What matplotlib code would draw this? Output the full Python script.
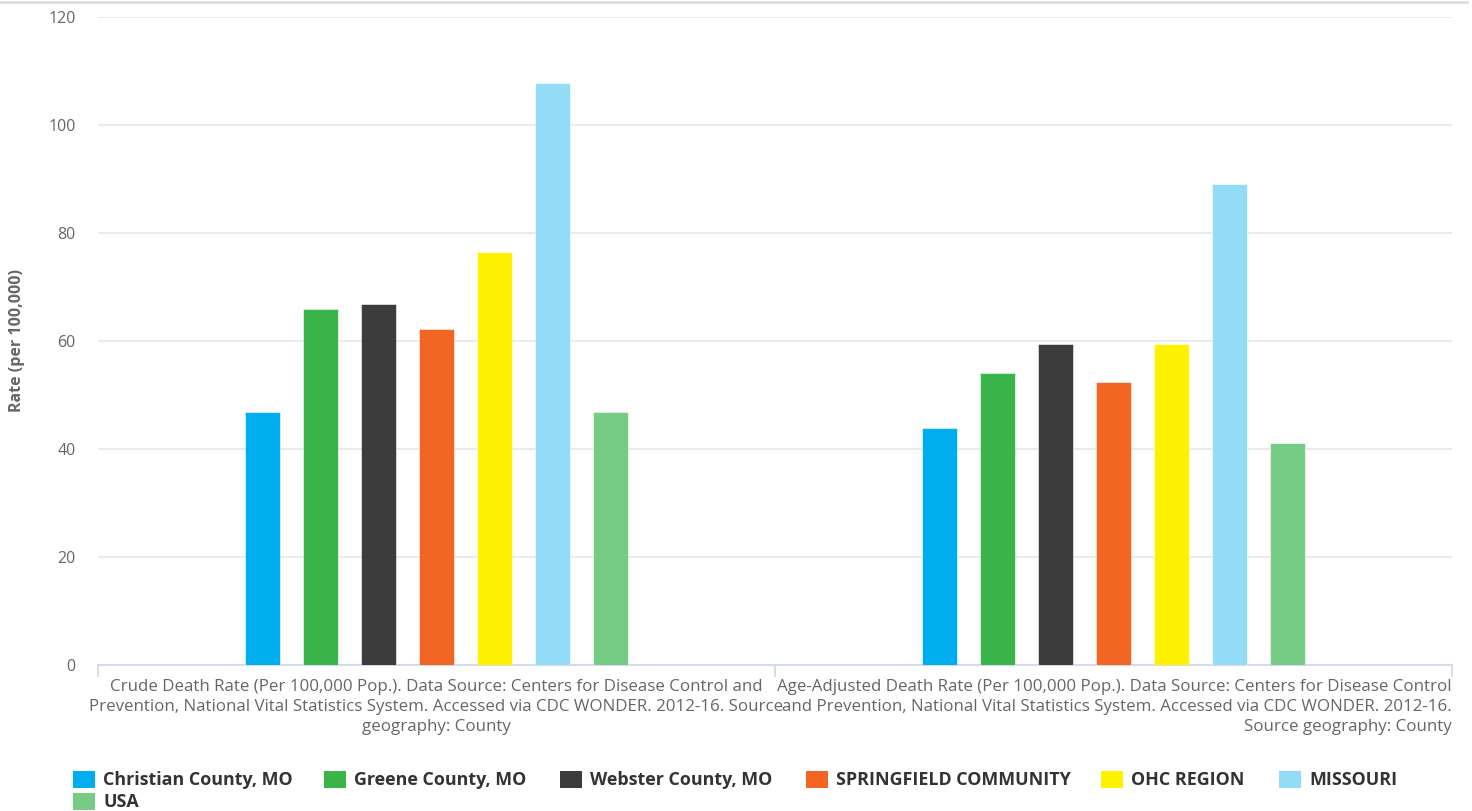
import matplotlib
matplotlib.use('Agg')
import matplotlib.pyplot as plt
from matplotlib.patches import Rectangle
from matplotlib.lines import Line2D
import numpy as np

plt.rcParams['font.family'] = ['Open Sans', 'DejaVu Sans']

# ---------------- data ----------------
categories = [
    "Crude Death Rate (Per 100,000 Pop.). Data Source: Centers for Disease Control and\n"
    "Prevention, National Vital Statistics System. Accessed via CDC WONDER. 2012-16. Source\n"
    "geography: County",
    "Age-Adjusted Death Rate (Per 100,000 Pop.). Data Source: Centers for Disease Control\n"
    "and Prevention, National Vital Statistics System. Accessed via CDC WONDER. 2012-16.\n"
    "Source geography: County",
]
series_names = ["Christian County, MO", "Greene County, MO", "Webster County, MO",
                "SPRINGFIELD COMMUNITY", "OHC REGION", "MISSOURI", "USA"]
christian = [46.9, 43.9]
greene = [66.0, 54.1]
webster = [66.8, 59.5]
springfield = [62.2, 52.5]
ohc = [76.5, 59.5]
missouri = [107.7, 89.0]
usa = [46.9, 41.2]
series_values = [christian, greene, webster, springfield, ohc, missouri, usa]
colors = ['#00aeef', '#39b54a', '#3c3c3c', '#f26522', '#fff200', '#92dcf8', '#76cc85']
y_ticks = [0, 20, 40, 60, 80, 100, 120]
y_label = "Rate (per 100,000)"

# ---------------- layout ----------------
W, H = 1472, 811
fig = plt.figure(figsize=(W / 100, H / 100), dpi=100)
ax_left, ax_right, ax_top, ax_bottom = 98, 1452, 17, 665
ax = fig.add_axes([ax_left / W, 1 - ax_bottom / H,
                   (ax_right - ax_left) / W, (ax_bottom - ax_top) / H])

pitch = 0.0857
width = 0.0512
x = np.arange(len(categories))
n = len(series_names)
for j, (vals, col) in enumerate(zip(series_values, colors)):
    ax.bar(x + (j - (n - 1) / 2) * pitch, vals, width=width, color=col,
           edgecolor='white', linewidth=0.4, zorder=3)

ax.set_xlim(-0.5, len(categories) - 0.5)
ax.set_ylim(0, 120)
ax.set_yticks(y_ticks)
ax.set_yticklabels([str(t) for t in y_ticks])
ax.grid(axis='y', color='#e6e6e6', linewidth=1.2, zorder=0)
ax.tick_params(axis='y', length=0, pad=16, labelsize=11.5, labelcolor='#666666')
for s in ['top', 'right', 'left']:
    ax.spines[s].set_visible(False)
ax.spines['bottom'].set_color('#ccd6eb')
ax.spines['bottom'].set_linewidth(1.2)
ax.set_xticks([])
ax.set_xticks(np.arange(-0.5, len(categories)), minor=True)
ax.tick_params(axis='x', which='minor', length=8.5, width=1.2, color='#ccd6eb',
               labelbottom=False)

ax.set_ylabel(y_label, fontsize=11.5, color='#666666', fontweight='bold')
ax.yaxis.set_label_coords((25 - ax_left) / (ax_right - ax_left), 0.5)

# category labels
lab_y = 1 - 679 / H
fig.text((ax_left + (ax_right - ax_left) * 0.25) / W, lab_y, categories[0],
         ha='center', va='top', fontsize=12.2, color='#666666', linespacing=1.33,
         multialignment='center')
fig.text(ax_right / W, lab_y, categories[1],
         ha='right', va='top', fontsize=12.2, color='#666666', linespacing=1.33,
         multialignment='right')

# top border line
fig.add_artist(Line2D([0, 1467 / W], [1 - 2 / H, 1 - 2 / H], color='#dddddd',
                      linewidth=2, transform=fig.transFigure))

# legend (manual, Highcharts-like)
leg_x = [73, 324, 560, 806, 1101, 1279, 73]
leg_row = [0, 0, 0, 0, 0, 0, 1]
row_top = [771, 793]
sq_w, sq_h = 22, 17
for name, col, lx, r in zip(series_names, colors, leg_x, leg_row):
    y0 = row_top[r]
    fig.add_artist(Rectangle((lx / W, 1 - (y0 + sq_h) / H), sq_w / W, sq_h / H,
                             facecolor=col, edgecolor='none', transform=fig.transFigure))
    fig.text((lx + 30) / W, 1 - (y0 + sq_h / 2 + 0.5) / H, name, ha='left', va='center',
             fontsize=12.9, fontweight='bold', color='#333333')

fig.savefig('out.png', dpi=100, facecolor='white')
